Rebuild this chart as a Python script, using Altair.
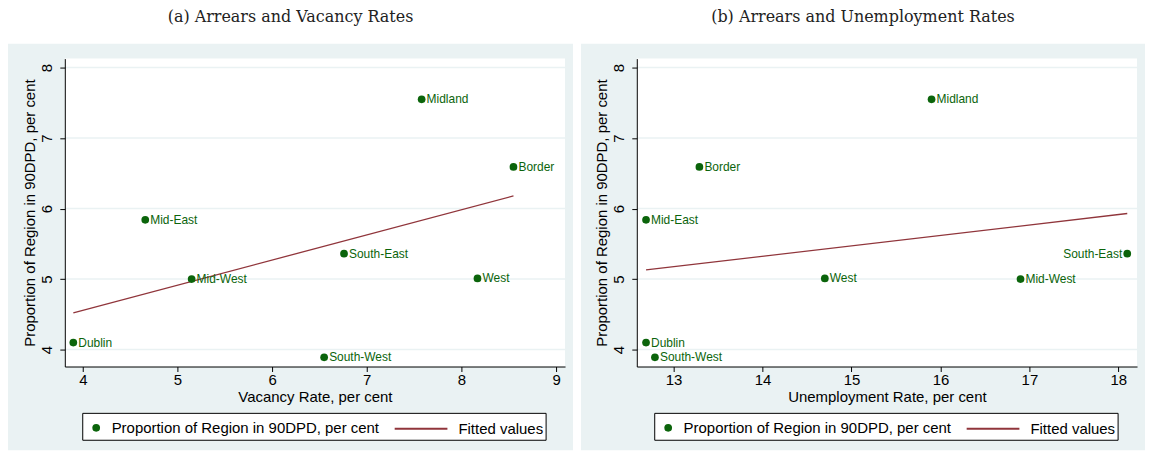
import altair as alt
import pandas as pd

# ---- data ----
regions = ["Dublin", "Mid-West", "Mid-East", "Midland", "Border", "South-East", "West", "South-West"]
arrears = [4.10, 5.00, 5.84, 7.55, 6.59, 5.36, 5.01, 3.89]
vacancy = [3.90, 5.15, 4.66, 7.58, 8.55, 6.76, 8.17, 6.55]
unemployment = [12.69, 16.90, 12.69, 15.90, 13.29, 18.10, 14.70, 12.79]

fit_vac_x = [3.90, 8.55]
fit_vac_y = [4.52, 6.18]
fit_une_x = [12.69, 18.10]
fit_une_y = [5.13, 5.93]

y_ticks = [4, 5, 6, 7, 8]
vac_ticks = [4, 5, 6, 7, 8, 9]
une_ticks = [13, 14, 15, 16, 17, 18]

panel_titles = ["(a) Arrears and Vacancy Rates", "(b) Arrears and Unemployment Rates"]
x_titles = ["Vacancy Rate, per cent", "Unemployment Rate, per cent"]
y_title = "Proportion of Region in 90DPD, per cent"
legend_labels = ["Proportion of Region in 90DPD, per cent", "Fitted values"]
left_labels_b = ["South-East"]

# ---- styling ----
GRAY = "#eaf2f3"
GREEN = "#0b640b"
MAROON = "#90353b"
FONT = "Liberation Sans"
W, H = 502, 309
Y_DOMAIN = [3.76, 8.127]


def make_panel(xvals, xdomain, xticks, xtitle, fx, fy, title, left_labels, bg_left):
    pts = pd.DataFrame({"region": regions, "x": xvals, "y": arrears,
                        "series": [legend_labels[0]] * len(regions)})
    fit = pd.DataFrame({"x": fx, "y": fy, "series2": [legend_labels[1]] * len(fx)})
    ticks = pd.DataFrame({"y": y_ticks})
    one = pd.DataFrame({"d": [0]})

    xscale = alt.Scale(domain=xdomain, nice=False, zero=False)
    yscale = alt.Scale(domain=Y_DOMAIN, nice=False, zero=False)

    xaxis = alt.Axis(values=xticks, title=xtitle, grid=False, zindex=1, format="d",
                     labelFont=FONT, labelFontSize=15, labelColor="black",
                     titleFont=FONT, titleFontSize=15, titleFontWeight="normal",
                     titleColor="black", domainColor="black", tickColor="black",
                     tickSize=5, labelPadding=1, titlePadding=2)
    yaxis = alt.Axis(values=y_ticks, title=y_title, grid=False, zindex=1, format="d",
                     labelAngle=270, labelFont=FONT, labelFontSize=15,
                     labelColor="black", titleFont=FONT, titleFontSize=15,
                     titleFontWeight="normal", titleColor="black",
                     domainColor="black", tickColor="black", tickSize=5,
                     labelPadding=5, titlePadding=2)

    bg = alt.Chart(one).mark_rect(color=GRAY).encode(
        x=alt.value(bg_left), x2=alt.value(W + 8), y=alt.value(-15), y2=alt.value(H + 84))
    plot_bg = alt.Chart(one).mark_rect(color="white").encode(
        x=alt.value(0), x2=alt.value(W), y=alt.value(0), y2=alt.value(H))
    grid = alt.Chart(ticks).mark_rule(color=GRAY, strokeWidth=1.5).encode(
        y=alt.Y("y:Q", scale=yscale, axis=yaxis))
    legbox = alt.Chart(one).mark_rect(fill="white", stroke="black", strokeWidth=1).encode(
        x=alt.value(18), x2=alt.value(483), y=alt.value(H + 47), y2=alt.value(H + 74))

    line = alt.Chart(fit).mark_line(strokeWidth=1.3).encode(
        x=alt.X("x:Q", scale=xscale, axis=xaxis),
        y=alt.Y("y:Q", scale=yscale, axis=yaxis),
        stroke=alt.Stroke("series2:N",
                          scale=alt.Scale(domain=[legend_labels[1]], range=[MAROON]),
                          legend=alt.Legend(title=None, orient="none", legendX=330,
                                            legendY=H + 35, symbolType="stroke",
                                            symbolSize=2800, symbolStrokeWidth=2,
                                            labelFont=FONT, labelFontSize=15,
                                            labelColor="black", labelOffset=10,
                                            labelLimit=400, padding=0)),
    )
    points = alt.Chart(pts).mark_point(filled=True, size=60, opacity=1).encode(
        x=alt.X("x:Q", scale=xscale, axis=xaxis),
        y=alt.Y("y:Q", scale=yscale, axis=yaxis),
        color=alt.Color("series:N",
                        scale=alt.Scale(domain=[legend_labels[0]], range=[GREEN]),
                        legend=alt.Legend(title=None, orient="none", legendX=24,
                                          legendY=H + 54, symbolType="circle",
                                          symbolSize=60, labelFont=FONT,
                                          labelFontSize=15, labelColor="black",
                                          labelOffset=8, labelLimit=400, padding=0)),
    )
    right_df = pts[~pts["region"].isin(left_labels)]
    left_df = pts[pts["region"].isin(left_labels)]
    text_r = alt.Chart(right_df).mark_text(align="left", baseline="middle", dx=5,
                                           font=FONT, fontSize=12, color=GREEN).encode(
        x=alt.X("x:Q", scale=xscale), y=alt.Y("y:Q", scale=yscale), text="region:N")
    text_l = alt.Chart(left_df).mark_text(align="right", baseline="middle", dx=-5,
                                          font=FONT, fontSize=12, color=GREEN).encode(
        x=alt.X("x:Q", scale=xscale), y=alt.Y("y:Q", scale=yscale), text="region:N")

    return alt.layer(bg, plot_bg, grid, legbox, line, points, text_r, text_l).properties(
        width=W, height=H,
        title=alt.TitleParams(title, frame="bounds", anchor="middle",
                              font="DejaVu Serif", fontSize=16, fontWeight="normal",
                              color="#222222", offset=19),
    )


pa = make_panel(vacancy, [3.81, 9.095], vac_ticks, x_titles[0], fit_vac_x, fit_vac_y,
                panel_titles[0], [], -57)
pb = make_panel(unemployment, [12.586, 18.21], une_ticks, x_titles[1], fit_une_x, fit_une_y,
                panel_titles[1], left_labels_b, -56)

chart = alt.hconcat(pa, pb, spacing=8).resolve_scale(
    color="independent", stroke="independent"
).resolve_legend(
    color="independent", stroke="independent"
).properties(padding=0, background="white").configure_view(stroke=None)

chart.save("out.html", embed_options={"renderer": "svg", "actions": False})
